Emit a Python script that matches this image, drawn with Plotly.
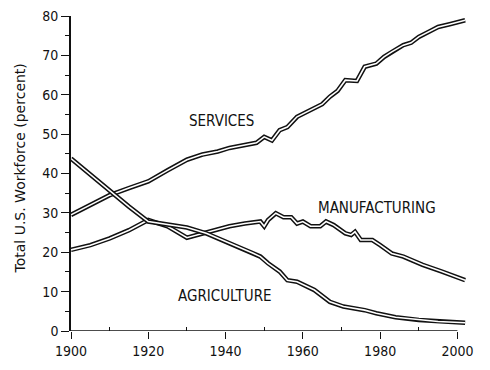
import plotly.graph_objects as go

# ---- data ----
services_years = [1900, 1905, 1910, 1915, 1920, 1925, 1930, 1934, 1938, 1941, 1945, 1948, 1950, 1952, 1954,
                  1956, 1958.5, 1962, 1965, 1967, 1969, 1971, 1974, 1976, 1979, 1981, 1983, 1986, 1988,
                  1990, 1993, 1995, 1998, 2002]
services_vals = [29.5, 32.0, 34.5, 36.3, 38.0, 40.8, 43.5, 44.8, 45.6, 46.5, 47.2, 47.8, 49.3, 48.4, 51.0,
                 51.8, 54.4, 56.1, 57.6, 59.5, 61.0, 63.7, 63.5, 67.1, 67.9, 69.6, 70.9, 72.6, 73.2,
                 74.7, 76.2, 77.2, 77.9, 78.9]

manuf_years = [1900, 1905, 1910, 1915, 1920, 1925, 1930, 1934, 1938, 1941, 1945, 1949, 1950, 1951, 1953,
               1955, 1957, 1958.5, 1960, 1962, 1964.5, 1966, 1968, 1971, 1972.5, 1973.5, 1975, 1978,
               1980, 1983, 1986, 1991, 1996, 2002]
manuf_vals = [20.6, 21.8, 23.5, 25.6, 28.2, 26.6, 23.7, 24.8, 25.8, 26.6, 27.3, 27.8, 26.6, 28.2, 29.9,
              28.9, 28.9, 27.3, 27.8, 26.6, 26.6, 27.8, 26.9, 24.8, 24.4, 25.2, 23.1, 23.1,
              21.8, 19.7, 18.9, 16.8, 15.1, 12.9]

agri_years = [1900, 1905, 1910, 1915, 1920, 1925, 1930, 1935, 1940, 1944, 1947, 1949, 1951, 1954, 1956,
              1958.5, 1963, 1967, 1970.5, 1976, 1979, 1984, 1990, 1995, 2002]
agri_vals = [43.8, 39.7, 35.8, 31.6, 27.8, 27.1, 26.3, 24.8, 22.8, 21.0, 19.8, 18.9, 17.2, 15.1, 12.9,
             12.5, 10.4, 7.4, 6.2, 5.3, 4.5, 3.5, 2.8, 2.4, 2.1]

series_names = ["SERVICES", "MANUFACTURING", "AGRICULTURE"]
label_x = [1939.0, 1979.3, 1939.8]
label_y = [53.3, 31.3, 8.9]

x_ticks = [1900, 1920, 1940, 1960, 1980, 2000]
y_ticks = [0, 10, 20, 30, 40, 50, 60, 70, 80]

FONT = "DejaVu Sans Condensed, DejaVu Sans, sans-serif"
INK = "#111111"

fig = go.Figure()
for xs, ys in [(services_years, services_vals), (manuf_years, manuf_vals), (agri_years, agri_vals)]:
    # outer dark stroke
    fig.add_trace(go.Scatter(x=xs, y=ys, mode="lines",
                             line=dict(color=INK, width=4.6), hoverinfo="skip", showlegend=False))
    # inner white core -> hollow "double line" look
    fig.add_trace(go.Scatter(x=xs, y=ys, mode="lines",
                             line=dict(color="white", width=1.6), hoverinfo="skip", showlegend=False))

for name, lx, ly in zip(series_names, label_x, label_y):
    fig.add_annotation(x=lx, y=ly, text=name, showarrow=False,
                       font=dict(family=FONT, size=15, color=INK),
                       xanchor="center", yanchor="middle")

# x axis baseline (stops at 2000 as in the reference)
fig.add_shape(type="line", xref="x", yref="y", x0=1900, x1=2000, y0=0, y1=0,
              line=dict(color=INK, width=1.6))

# y-axis title
fig.add_annotation(xref="paper", yref="paper", x=-0.128, y=0.516,
                   text="Total U.S. Workforce (percent)", textangle=-90, showarrow=False,
                   font=dict(family="DejaVu Sans, sans-serif", size=14, color=INK),
                   xanchor="center", yanchor="middle")

# page body has an 8px margin, so the figure is shrunk and its margins reduced by 8px
fig.update_layout(
    width=482, height=362,
    margin=dict(l=63, r=21, t=8, b=39, autoexpand=False),
    paper_bgcolor="white", plot_bgcolor="white",
    showlegend=False,
    xaxis=dict(range=[1900, 2003], tickvals=x_ticks, ticktext=[str(v) for v in x_ticks],
               showgrid=False, zeroline=False, showline=False, automargin=False,
               ticks="outside", ticklen=7, tickwidth=1.4, tickcolor=INK,
               ticklabeloverflow="allow",
               minor=dict(tickvals=[1910, 1930, 1950, 1970, 1990], ticks="inside",
                          ticklen=4, tickwidth=1.2, tickcolor=INK),
               tickfont=dict(family=FONT, size=14, color=INK)),
    yaxis=dict(range=[0, 80], tickvals=y_ticks, ticktext=[str(v) for v in y_ticks],
               showgrid=False, zeroline=False, showline=True, linecolor=INK, linewidth=1.6,
               automargin=False,
               ticks="outside", ticklen=8, tickwidth=1.4, tickcolor=INK,
               ticklabeloverflow="allow",
               minor=dict(dtick=5, ticks="outside", ticklen=4, tickwidth=1.2, tickcolor=INK),
               tickfont=dict(family=FONT, size=14, color=INK)),
)

fig.write_html("out.html")
